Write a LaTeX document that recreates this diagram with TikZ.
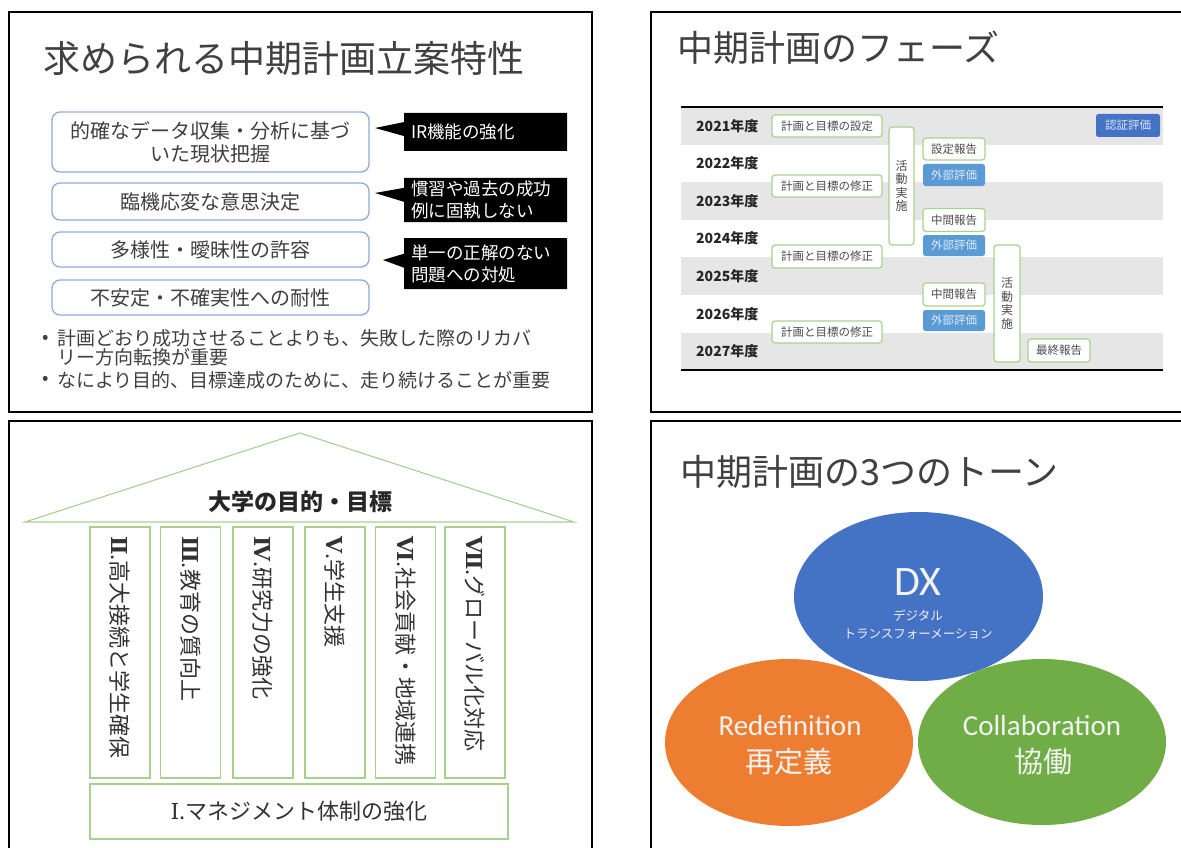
\documentclass[tikz,border=0pt]{standalone}
\usepackage{fontspec}
\setmainfont{Noto Sans CJK JP}
\newfontfamily\carl{Carlito}
\newfontfamily\romf{DejaVu Serif}
\usetikzlibrary{shapes.geometric,shapes.callouts}
\definecolor{txt}{HTML}{404040}
\definecolor{bluebd}{HTML}{8FAADC}
\definecolor{grnl}{HTML}{A9D18E}
\definecolor{rowgray}{HTML}{E7E6E6}
\definecolor{bA}{HTML}{5B9BD5}
\definecolor{bB}{HTML}{4472C4}
\definecolor{orng}{HTML}{ED7D31}
\definecolor{grnF}{HTML}{70AD47}
\begin{document}
\begin{tikzpicture}[x=1pt,y=-1pt,
  panel/.style={draw=black,line width=2.5pt},
  ttl/.style={anchor=west,inner sep=0,text=txt,font=\fontsize{37}{40}\selectfont},
  rbox/.style={draw=bluebd,line width=1.3pt,rounded corners=8pt,fill=white,minimum width=317pt,inner sep=0,text=txt,align=center,font=\fontsize{20}{23}\selectfont},
  note/.style={rectangle callout,fill=black,text=white,text width=149pt,inner xsep=7pt,inner ysep=0pt,align=left,minimum width=163pt,font=\fontsize{17.5}{22}\selectfont,callout pointer width=14pt},
  bul/.style={anchor=west,inner sep=0,text=txt,align=left,font=\fontsize{19}{19}\selectfont},
  gbox/.style={draw=grnl,line width=1.2pt,rounded corners=3pt,fill=white,inner sep=0,text=black!70,font=\fontsize{11.5}{14}\selectfont},
  bbox/.style={fill=#1,rounded corners=2.5pt,inner sep=0,text=white!80!#1,font=\fontsize{11.5}{14}\selectfont},
  actbox/.style={gbox,align=center,font=\fontsize{12}{13.5}\selectfont},
  year/.style={anchor=west,inner sep=0,text=black!85,font=\fontsize{14}{16}\selectfont\bfseries},
  pillar/.style={draw=grnl,line width=1.2pt,minimum width=60pt,minimum height=251pt,inner sep=0},
  ptext/.style={rotate=-90,anchor=west,inner sep=0,text=black!80,font=\fontsize{22}{24}\selectfont},
  oval/.style={ellipse,fill=#1,inner sep=0},
  wt/.style={text=white!95!black,inner sep=0}
]
\useasboundingbox (0,0) rectangle (1181,848);
\clip (0,0) rectangle (1181,848);
\fill[white] (0,0) rectangle (1181,848);

% ---------- panel 1 ----------
\draw[panel] (9,12) rectangle (592,412);
\node[ttl] (t1) at (43,58) {求められる中期計画立案特性};
\node[rbox,minimum height=60pt] (r1) at (210.5,142) {的確なデータ収集・分析に基づ\\いた現状把握};
\node[rbox,minimum height=37pt] (r2) at (210.5,201.5) {臨機応変な意思決定};
\node[rbox,minimum height=35pt] (r3) at (210.5,249.5) {多様性・曖昧性の許容};
\node[rbox,minimum height=35pt] (r4) at (210.5,297.5) {不安定・不確実性への耐性};
\node[note,minimum height=38pt,callout absolute pointer={(375,128)}] (c1) at (485.5,132) {IR機能の強化};
\node[note,minimum height=44pt,callout absolute pointer={(375,193)}] (c2) at (485.5,200) {慣習や過去の成功\\例に固執しない};
\node[note,minimum height=51pt,callout absolute pointer={(383,260)}] (c3) at (485.5,263.5) {単一の正解のない\\問題への対処};
\node[bul] (d1) at (42,339) {•};
\node[bul] (b1) at (57,348) {計画どおり成功させることよりも、失敗した際のリカバ\\リー方向転換が重要};
\node[bul] (d2) at (42,380) {•};
\node[bul] (b2) at (57,380) {なにより目的、目標達成のために、走り続けることが重要};

% ---------- panel 2 ----------
\draw[panel] (651,12) rectangle (1195,412);
\node[ttl,font=\fontsize{36}{40}\selectfont] (t2) at (677,48) {中期計画のフェーズ};
\foreach \i/\yr in {0/2021,1/2022,2/2023,3/2024,4/2025,5/2026,6/2027}{
  \pgfmathsetmacro{\ya}{107+37.6*\i}
  \pgfmathsetmacro{\yb}{107+37.6*(\i+1)}
  \pgfmathsetmacro{\yc}{107+37.6*(\i+0.5)}
  \ifodd\i\else\fill[rowgray] (681,\ya) rectangle (1163,\yb);\fi
  \node[year] (y\yr) at (696,\yc) {\yr 年度};
}
\draw[line width=2pt] (681,107) -- (1163,107);
\draw[line width=2pt] (681,370) -- (1163,370);
\node[gbox,minimum width=110pt,minimum height=22pt] (p0) at (827,126) {計画と目標の設定};
\node[gbox,minimum width=110pt,minimum height=22pt] (p1) at (827,186) {計画と目標の修正};
\node[gbox,minimum width=110pt,minimum height=23pt] (p2) at (827,256.5) {計画と目標の修正};
\node[gbox,minimum width=110pt,minimum height=22pt] (p3) at (827,332) {計画と目標の修正};
\node[actbox,minimum width=25pt,minimum height=118pt] (a1) at (901.5,186) {活\\動\\実\\施};
\node[actbox,minimum width=26pt,minimum height=117pt] (a2) at (1007,303.5) {活\\動\\実\\施};
\node[gbox,minimum width=62pt,minimum height=22pt] (s1) at (954,149) {設定報告};
\node[bbox=bA,minimum width=62pt,minimum height=22pt] (e1) at (954,175) {外部評価};
\node[gbox,minimum width=62pt,minimum height=23pt] (s2) at (954,220) {中間報告};
\node[bbox=bA,minimum width=62pt,minimum height=21pt] (e2) at (954,245.5) {外部評価};
\node[gbox,minimum width=62pt,minimum height=23pt] (s3) at (954,294.5) {中間報告};
\node[bbox=bA,minimum width=62pt,minimum height=21pt] (e3) at (954,320.5) {外部評価};
\node[gbox,minimum width=62pt,minimum height=23pt] (fin) at (1059,350.5) {最終報告};
\node[bbox=bB,minimum width=64pt,minimum height=23pt] (cert) at (1128,125.5) {認証評価};

% ---------- panel 3 ----------
\draw[panel] (9,421) rectangle (592,862);
\draw[grnl,line width=1.1pt] (25,522) -- (300,433) -- (574,522) -- cycle;
\node[inner sep=0,text=black!85,font=\fontsize{23}{26}\selectfont\bfseries] (goal) at (300,502) {大学の目的・目標};
\node[pillar] (q2) at (120,652.5) {};
\node[pillar] (q3) at (190.5,652.5) {};
\node[pillar] (q4) at (263,652.5) {};
\node[pillar] (q5) at (335,652.5) {};
\node[pillar] (q6) at (405.5,652.5) {};
\node[pillar] (q7) at (475,652.5) {};
\node[ptext] (q2t) at (120,536) {{\romf\bfseries Ⅱ}.高大接続と学生確保};
\node[ptext] (q3t) at (190.5,536) {{\romf\bfseries Ⅲ}.教育の質向上};
\node[ptext] (q4t) at (263,536) {{\romf\bfseries Ⅳ}.研究力の強化};
\node[ptext] (q5t) at (335,536) {{\romf\bfseries Ⅴ}.学生支援};
\node[ptext] (q6t) at (405.5,536) {{\romf\bfseries Ⅵ}.社会貢献・地域連携};
\node[ptext] (q7t) at (475,536) {{\romf\bfseries Ⅶ}.グローバル化対応};
\node[draw=grnl,line width=1.2pt,minimum width=418pt,minimum height=55pt,inner sep=0,text=black!80,font=\fontsize{22}{24}\selectfont] (base) at (299,811.5) {{\romf Ⅰ}.マネジメント体制の強化};

% ---------- panel 4 ----------
\draw[panel] (651,421) rectangle (1195,862);
\node[ttl,font=\fontsize{36}{40}\selectfont] (t4) at (680,472) {中期計画の3つのトーン};
\node[oval=orng,minimum width=248pt,minimum height=167pt] (ore) at (789,742.5) {};
\node[oval=grnF,minimum width=248pt,minimum height=166pt] (gre) at (1042,742) {};
\node[oval=bB,minimum width=249pt,minimum height=169pt] (dxe) at (918.5,596.5) {};
\node[wt,font=\carl\fontsize{42}{44}\selectfont] (dx) at (918,582.5) {DX};
\node[wt,font=\fontsize{12.5}{14}\selectfont] (dx1) at (918,616) {デジタル};
\node[wt,font=\fontsize{12.5}{14}\selectfont] (dx2) at (918,634) {トランスフォーメーション};
\node[wt,font=\carl\fontsize{29}{32}\selectfont] (re) at (790,726) {Redefinition};
\node[wt,font=\fontsize{29}{32}\selectfont] (rej) at (789,762) {再定義};
\node[wt,font=\carl\fontsize{29}{32}\selectfont] (co) at (1042,726) {Collaboration};
\node[wt,font=\fontsize{29}{32}\selectfont] (coj) at (1043,762) {協働};
\end{tikzpicture}
\end{document}
